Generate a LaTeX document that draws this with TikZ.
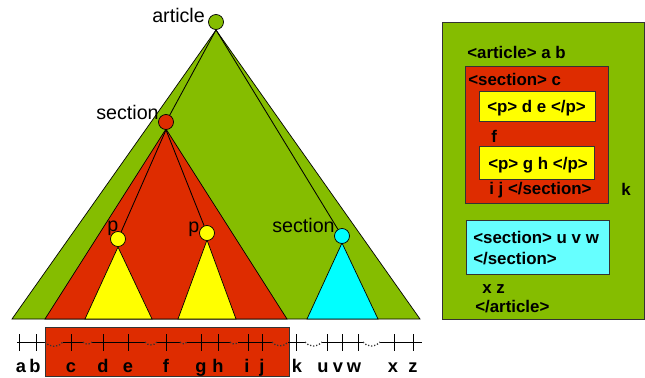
\documentclass[tikz,border=0pt]{standalone}
\usepackage{fontspec}
\setmainfont{Liberation Sans}
\usetikzlibrary{calc,positioning}
\definecolor{artc}{RGB}{133,189,0}
\definecolor{secc}{RGB}{222,44,0}
\definecolor{parc}{RGB}{255,255,0}
\definecolor{cyac}{RGB}{0,255,255}
\definecolor{cyabox}{RGB}{102,255,255}
\tikzset{
  elt/.style={circle,draw=black,line width=0.5pt,minimum size=3.75mm,inner sep=0pt},
  tri/.style={draw=black,line width=0.5pt},
  edge/.style={line width=0.6pt,black},
  tname/.style={font=\fontsize{14}{16}\selectfont,anchor=base west,inner sep=0pt},
  leaf/.style={font=\fontsize{13}{15}\selectfont\bfseries,anchor=base,inner sep=0pt},
  tag/.style={font=\fontsize{12}{14}\selectfont\bfseries,anchor=base west,inner sep=0pt},
  box/.style={draw=black!80,line width=0.6pt},
  tick/.style={line width=0.6pt,black},
  gap/.style={dash pattern=on 0.9pt off 1.3pt,line width=0.9pt,black!80},
}
\begin{document}
\begin{tikzpicture}[x=0.025cm,y=-0.025cm]
  \useasboundingbox (0,0) rectangle (645,377);
  % subtrees: one triangle per element
  \filldraw[tri,fill=artc] (216,30) -- (12,319) -- (420,319) -- cycle;
  \filldraw[tri,fill=secc] (166,129) -- (45,319) -- (287,319) -- cycle;
  \filldraw[tri,fill=parc] (118,247) -- (85,319) -- (152,319) -- cycle;
  \filldraw[tri,fill=parc] (207,240) -- (178,319) -- (236,319) -- cycle;
  \filldraw[tri,fill=cyac] (342,243) -- (307,319) -- (378,319) -- cycle;
  % element nodes
  \node[elt,fill=artc] (art) at (216,22){};
  \node[elt,fill=secc] (sec1) at (166,122){};
  \node[elt,fill=parc] (p1) at (118,239){};
  \node[elt,fill=parc] (p2) at (207,233){};
  \node[elt,fill=cyac] (sec2) at (342,236){};
  \draw[edge](art.south)--(sec1); \draw[edge](art.south)--(sec2);
  \draw[edge](sec1.south)--(p1); \draw[edge](sec1.south)--(p2);
  \node[tname] (nart) at (152,22){article};
  \node[tname] (nsec1) at (96,119){section};
  \node[tname] (np1) at (107,231){p};
  \node[tname] (np2) at (188,232){p};
  \node[tname] (nsec2) at (272,232){section};
  % token line below the tree
  \draw[box,fill=secc] (45,327) rectangle (289,376);
  \foreach \p/\q in {17/45,63/83,92/145,157/180,187/230,238/272,288/305,322/363,380/422}
    \draw[tick] (\p,342) -- (\q,342);
  \foreach \p/\q in {45/63,83/92,145/157,180/187,230/238,272/288,305/322,363/380}
    \draw[gap] (\p,342) to[bend right=55] (\q,342);
  \foreach \n/\x/\lx in {a/19/21,b/36/35,c/71/71,d/103/103,e/128/128,f/166/166,g/201/201,h/218/218,
      i/248/247,j/262/262,k/296/297,u/327/323,v/342/338,w/358/354,x/394/393,z/413/413}{
    \coordinate (t\n) at (\x,342);
    \draw[tick] (\x,334) -- (\x,351);
    \node[leaf] (l\n) at (\lx,372){\n};
  }
  % nested markup view
  \draw[box,fill=artc] (442,22) rectangle (644,319);
  \draw[box,fill=secc] (465,66) rectangle (608,203);
  \draw[box,fill=parc] (479,91) rectangle (595,121);
  \draw[box,fill=parc] (479,146) rectangle (594,179);
  \draw[box,fill=cyabox] (466,220) rectangle (609,274);
  \node[tag] (tart) at (467,58){<article> a b};
  \node[tag] (tsec1) at (468,85){<section> c};
  \node[tag] (tp1) at (487,112){<p> d e </p>};
  \node[tag] (tf) at (491,142){f};
  \node[tag] (tp2) at (488,169){<p> g h </p>};
  \node[tag] (tij) at (489,194){i j </section>};
  \node[tag] (tk) at (621,195){k};
  \node[tag] (tsec2) at (473,243){<section> u v w};
  \node[tag] (tsec2e) at (473,264){</section>};
  \node[tag] (txz) at (482,293){x z};
  \node[tag] (tarte) at (475,312){</article>};
\end{tikzpicture}
\end{document}
